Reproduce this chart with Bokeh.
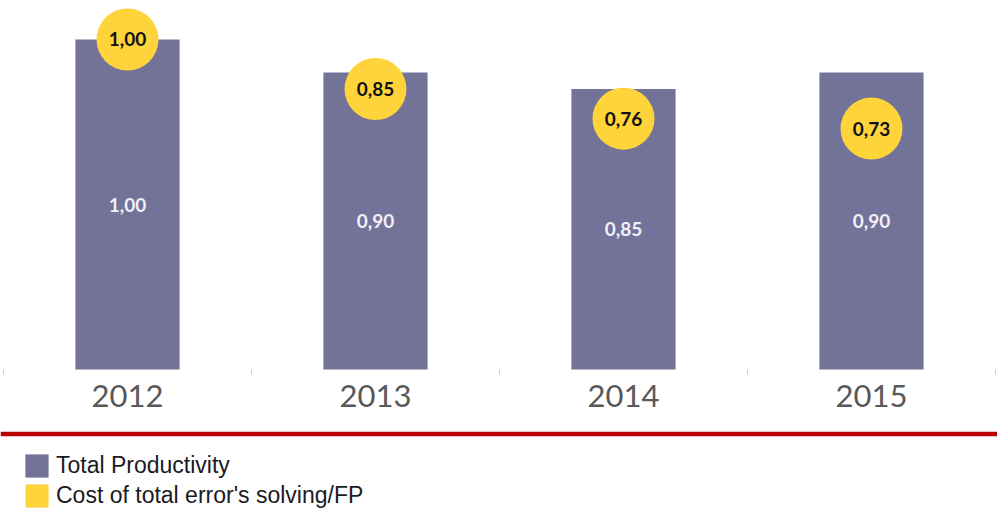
from bokeh.plotting import figure
from bokeh.models import (Range1d, LinearAxis, FixedTicker, Span, Legend, LegendItem,
                          ColumnDataSource)
from bokeh.core.properties import value
from bokeh.embed import file_html
from bokeh.resources import INLINE

# ---- data ----
years = ["2012", "2013", "2014", "2015"]
productivity = [1.00, 0.90, 0.85, 0.90]
cost = [1.00, 0.85, 0.76, 0.73]

idx = list(range(len(years)))
fmt = lambda v: f"{v:.2f}".replace(".", ",")

BAR = "#737299"
YEL = "#FFD43B"

src = ColumnDataSource(dict(
    x=idx, prod=productivity, cost=cost,
    mid=[v / 2 for v in productivity],
    prod_lbl=[fmt(v) for v in productivity],
    cost_lbl=[fmt(v) for v in cost],
))

p = figure(width=997, height=512, output_backend="svg", toolbar_location=None,
           x_axis_location=None, y_axis_location=None,
           x_range=Range1d(-0.5121, 3.5081), y_range=Range1d(-0.43333, 1.11818),
           min_border=0, background_fill_color="white", border_fill_color="white")
p.outline_line_color = None
p.xgrid.visible = False
p.ygrid.visible = False

bars = p.vbar(x="x", top="prod", bottom=0, width=0.42, source=src,
              fill_color=BAR, line_color=None)

p.text(x="x", y="mid", text="prod_lbl", source=src, text_align="center",
       text_baseline="middle", text_font=value("Lato"), text_font_size="19px",
       text_font_style="bold", text_color="#f0f0f6")

p.scatter(x="x", y="cost", source=src, size=62, marker="circle",
          fill_color=YEL, line_color=None)

p.text(x="x", y="cost", text="cost_lbl", source=src, text_align="center",
       text_baseline="middle", text_font=value("Lato"), text_font_size="19px",
       text_font_style="bold", text_color="#111111")

# zero-height swatch renderer so the legend can show a yellow square
yel_swatch = p.vbar(x="x", top="cost", bottom="cost", width=0.42, source=src,
                    fill_color=YEL, line_color=None)

# category axis with boundary (minor) ticks
ax = LinearAxis(fixed_location=0,
                ticker=FixedTicker(ticks=idx, minor_ticks=[i - 0.5 for i in range(len(years) + 1)]),
                major_label_overrides={i: y for i, y in zip(idx, years)})
ax.axis_line_color = None
ax.major_tick_line_color = None
ax.major_tick_out = 0
ax.major_tick_in = 0
ax.minor_tick_line_color = "#c8c8c8"
ax.minor_tick_in = 0
ax.minor_tick_out = 5
ax.major_label_standoff = 10
ax.major_label_text_font = "Lato"
ax.major_label_text_font_size = "31px"
ax.major_label_text_color = "#595959"
p.add_layout(ax, "below")

# red separator line
p.add_layout(Span(location=-0.1955, dimension="width", line_color="#B80000", line_width=4.5))

# legend
legend = Legend(items=[LegendItem(label="Total Productivity", renderers=[bars]),
                       LegendItem(label="Cost of total error's solving/FP", renderers=[yel_swatch])],
                location=(22, 2), orientation="vertical")
legend.glyph_width = 29
legend.glyph_height = 29
legend.label_standoff = 5
legend.spacing = 1
legend.padding = 0
legend.margin = 0
legend.border_line_color = None
legend.background_fill_alpha = 0
legend.label_text_font = "Liberation Sans"
legend.label_text_font_size = "23px"
legend.label_text_color = "#1a1a22"
legend.label_height = 29
p.add_layout(legend)

open("out.html", "w").write(file_html(p, INLINE))
